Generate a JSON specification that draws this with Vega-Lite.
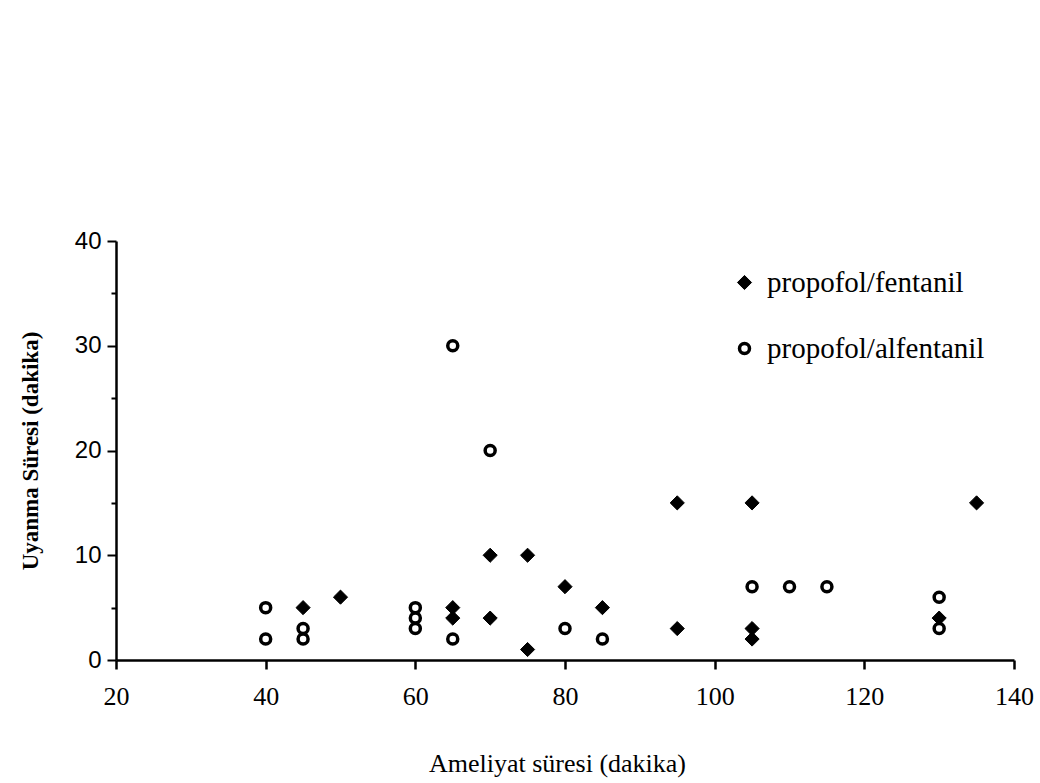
{
  "$schema": "https://vega.github.io/schema/vega-lite/v6.json",
  "width": 898,
  "height": 419,
  "autosize": {"type": "none"},
  "padding": {"left": 116, "top": 241, "right": 26, "bottom": 123},
  "background": "white",
  "config": {"view": {"stroke": null}},
  "data": {
    "values": [
      {"sure": 45, "uyanma": 5, "grup": "propofol/fentanil"},
      {"sure": 50, "uyanma": 6, "grup": "propofol/fentanil"},
      {"sure": 65, "uyanma": 5, "grup": "propofol/fentanil"},
      {"sure": 65, "uyanma": 4, "grup": "propofol/fentanil"},
      {"sure": 70, "uyanma": 10, "grup": "propofol/fentanil"},
      {"sure": 70, "uyanma": 4, "grup": "propofol/fentanil"},
      {"sure": 75, "uyanma": 10, "grup": "propofol/fentanil"},
      {"sure": 75, "uyanma": 1, "grup": "propofol/fentanil"},
      {"sure": 80, "uyanma": 7, "grup": "propofol/fentanil"},
      {"sure": 85, "uyanma": 5, "grup": "propofol/fentanil"},
      {"sure": 95, "uyanma": 15, "grup": "propofol/fentanil"},
      {"sure": 95, "uyanma": 3, "grup": "propofol/fentanil"},
      {"sure": 105, "uyanma": 15, "grup": "propofol/fentanil"},
      {"sure": 105, "uyanma": 3, "grup": "propofol/fentanil"},
      {"sure": 105, "uyanma": 2, "grup": "propofol/fentanil"},
      {"sure": 130, "uyanma": 4, "grup": "propofol/fentanil"},
      {"sure": 135, "uyanma": 15, "grup": "propofol/fentanil"},
      {"sure": 40, "uyanma": 5, "grup": "propofol/alfentanil"},
      {"sure": 40, "uyanma": 2, "grup": "propofol/alfentanil"},
      {"sure": 45, "uyanma": 3, "grup": "propofol/alfentanil"},
      {"sure": 45, "uyanma": 2, "grup": "propofol/alfentanil"},
      {"sure": 60, "uyanma": 5, "grup": "propofol/alfentanil"},
      {"sure": 60, "uyanma": 4, "grup": "propofol/alfentanil"},
      {"sure": 60, "uyanma": 3, "grup": "propofol/alfentanil"},
      {"sure": 65, "uyanma": 30, "grup": "propofol/alfentanil"},
      {"sure": 65, "uyanma": 2, "grup": "propofol/alfentanil"},
      {"sure": 70, "uyanma": 20, "grup": "propofol/alfentanil"},
      {"sure": 80, "uyanma": 3, "grup": "propofol/alfentanil"},
      {"sure": 85, "uyanma": 2, "grup": "propofol/alfentanil"},
      {"sure": 105, "uyanma": 7, "grup": "propofol/alfentanil"},
      {"sure": 110, "uyanma": 7, "grup": "propofol/alfentanil"},
      {"sure": 115, "uyanma": 7, "grup": "propofol/alfentanil"},
      {"sure": 130, "uyanma": 6, "grup": "propofol/alfentanil"},
      {"sure": 130, "uyanma": 3, "grup": "propofol/alfentanil"}
    ]
  },
  "mark": {"type": "point", "filled": true, "stroke": "black", "opacity": 1},
  "encoding": {
    "x": {
      "field": "sure", "type": "quantitative",
      "scale": {"domain": [20, 140], "nice": false, "zero": false},
      "axis": {
        "title": "Ameliyat süresi (dakika)",
        "values": [20, 40, 60, 80, 100, 120, 140],
        "grid": false,
        "labelFlush": false,
        "domainColor": "black", "domainWidth": 2.5,
        "tickColor": "black", "tickWidth": 2.5, "tickSize": 9,
        "labelFont": "Liberation Serif", "labelFontSize": 26, "labelColor": "black",
        "labelPadding": 14,
        "titleFont": "Liberation Serif", "titleFontSize": 26, "titleFontWeight": "normal", "titleColor": "black",
        "titlePadding": 41,
        "titleX": 441
      }
    },
    "y": {
      "field": "uyanma", "type": "quantitative",
      "scale": {"domain": [0, 40], "nice": false},
      "axis": {
        "title": "Uyanma  Süresi  (dakika)",
        "values": [0, 5, 10, 15, 20, 25, 30, 35, 40],
        "labelExpr": "datum.value % 10 === 0 ? datum.label : ''",
        "grid": false,
        "labelFlush": false,
        "domainColor": "black", "domainWidth": 2.5,
        "tickColor": "black", "tickWidth": 2,
        "tickSize": {"condition": {"test": "datum.value % 10 === 0", "value": 9}, "value": 5},
        "labelFont": "Liberation Sans", "labelFontSize": 24, "labelColor": "black",
        "labelPadding": 6,
        "titleFont": "Liberation Serif", "titleFontSize": 23, "titleFontWeight": "bold", "titleColor": "black",
        "titlePadding": 32
      }
    },
    "shape": {
      "field": "grup", "type": "nominal",
      "scale": {"domain": ["propofol/fentanil", "propofol/alfentanil"], "range": ["diamond", "circle"]},
      "legend": {
        "title": null,
        "orient": "none",
        "legendX": 614,
        "legendY": 27,
        "labelFont": "Liberation Serif",
        "labelFontSize": 29,
        "labelLimit": 0,
        "labelColor": "black",
        "labelOffset": 8,
        "rowPadding": 36,
        "symbolStrokeColor": "black"
      }
    },
    "fill": {
      "field": "grup", "type": "nominal",
      "scale": {"domain": ["propofol/fentanil", "propofol/alfentanil"], "range": ["black", "white"]}
    },
    "size": {
      "field": "grup", "type": "nominal",
      "scale": {"domain": ["propofol/fentanil", "propofol/alfentanil"], "range": [200, 100]}
    },
    "strokeWidth": {
      "field": "grup", "type": "nominal",
      "scale": {"domain": ["propofol/fentanil", "propofol/alfentanil"], "range": [1, 3.5]}
    }
  }
}
